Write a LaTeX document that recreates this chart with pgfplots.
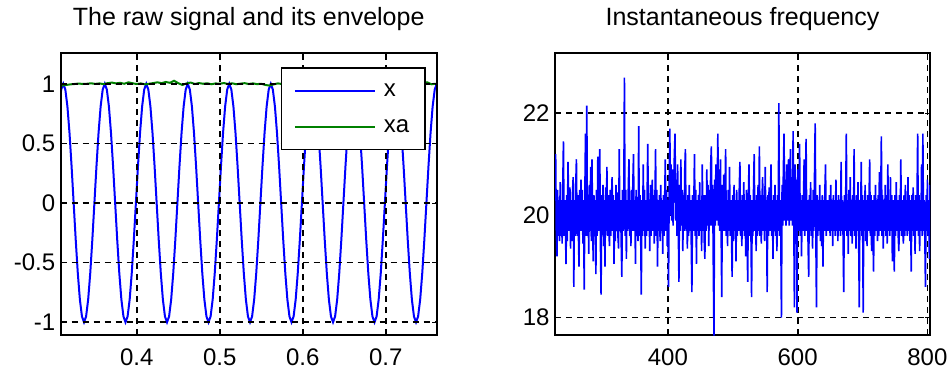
\documentclass[border=0pt]{standalone}
\usepackage{pgfplots}
\pgfplotsset{compat=1.18}
\usepackage{fontspec}
\setmainfont{Liberation Sans}
\definecolor{mblue}{RGB}{0,0,255}
\definecolor{mgreen}{RGB}{0,128,0}
\begin{document}
\begin{tikzpicture}
\useasboundingbox (0pt,0pt) rectangle (950pt,370pt);
\pgfplotsset{
  mstyle/.style={
    scale only axis,
    anchor=south west,
    axis line style={line width=1.8pt, black},
    grid=major,
    major grid style={black, line width=1.7pt, dash pattern=on 6pt off 5pt},
    major tick length=5pt,
    tick style={black, line width=1pt},
    tick align=inside,
    xtick pos=both, ytick pos=both,
    ticklabel style={font=\fontsize{24}{28}\selectfont, text=black},
    xticklabel style={anchor=base, yshift=-30pt},
    yticklabel style={anchor=east, xshift=-2pt},
    title style={font=\fontsize{25}{30}\selectfont, at={(0.5,1)}, anchor=base, yshift=21.6pt},
    clip=true,
  }
}
\begin{axis}[mstyle,
  at={(60.7pt,35pt)}, width=376pt, height=282pt,
  xmin=0.3084, xmax=0.7614, ymin=-1.107, ymax=1.258,
  xtick={0.4,0.5,0.6,0.7}, xticklabels={0.4,0.5,0.6,0.7},
  ytick={-1,-0.5,0,0.5,1}, yticklabels={-1,-0.5,0,0.5,1},
  axis on top,
  title={The raw signal and its envelope},
  legend style={at={(0.971,0.949)}, anchor=north east, draw=black, line width=1.3pt, fill=white,
    font=\fontsize{24}{28}\selectfont, inner xsep=12pt, inner ysep=12pt, row sep=14pt,
    /tikz/column sep=4pt,
    nodes={inner sep=4pt, text depth=0.2ex}},
  legend cell align=left,
  legend image code/.code={\draw[#1, line width=2pt] (0pt,0pt) -- (80pt,0pt);},
]
\addplot[mblue, line width=2pt] coordinates {
(0.3065,0.809)(0.3090,0.951)
(0.3115,1)(0.3140,0.951)(0.3165,0.809)(0.3190,0.588)(0.3215,0.309)(0.3240,0)(0.3265,-0.309)(0.3290,-0.588)(0.3315,-0.809)(0.3340,-0.951)(0.3365,-1)(0.3390,-0.951)(0.3415,-0.809)(0.3440,-0.588)(0.3465,-0.309)(0.3490,0)(0.3515,0.309)(0.3540,0.588)(0.3565,0.809)(0.3590,0.951)
(0.3615,1)(0.3640,0.951)(0.3665,0.809)(0.3690,0.588)(0.3715,0.309)(0.3740,0)(0.3765,-0.309)(0.3790,-0.588)(0.3815,-0.809)(0.3840,-0.951)(0.3865,-1)(0.3890,-0.951)(0.3915,-0.809)(0.3940,-0.588)(0.3965,-0.309)(0.3990,0)(0.4015,0.309)(0.4040,0.588)(0.4065,0.809)(0.4090,0.951)
(0.4115,1)(0.4140,0.951)(0.4165,0.809)(0.4190,0.588)(0.4215,0.309)(0.4240,0)(0.4265,-0.309)(0.4290,-0.588)(0.4315,-0.809)(0.4340,-0.951)(0.4365,-1)(0.4390,-0.951)(0.4415,-0.809)(0.4440,-0.588)(0.4465,-0.309)(0.4490,0)(0.4515,0.309)(0.4540,0.588)(0.4565,0.809)(0.4590,0.951)
(0.4615,1)(0.4640,0.951)(0.4665,0.809)(0.4690,0.588)(0.4715,0.309)(0.4740,0)(0.4765,-0.309)(0.4790,-0.588)(0.4815,-0.809)(0.4840,-0.951)(0.4865,-1)(0.4890,-0.951)(0.4915,-0.809)(0.4940,-0.588)(0.4965,-0.309)(0.4990,0)(0.5015,0.309)(0.5040,0.588)(0.5065,0.809)(0.5090,0.951)
(0.5115,1)(0.5140,0.951)(0.5165,0.809)(0.5190,0.588)(0.5215,0.309)(0.5240,0)(0.5265,-0.309)(0.5290,-0.588)(0.5315,-0.809)(0.5340,-0.951)(0.5365,-1)(0.5390,-0.951)(0.5415,-0.809)(0.5440,-0.588)(0.5465,-0.309)(0.5490,0)(0.5515,0.309)(0.5540,0.588)(0.5565,0.809)(0.5590,0.951)
(0.5615,1)(0.5640,0.951)(0.5665,0.809)(0.5690,0.588)(0.5715,0.309)(0.5740,0)(0.5765,-0.309)(0.5790,-0.588)(0.5815,-0.809)(0.5840,-0.951)(0.5865,-1)(0.5890,-0.951)(0.5915,-0.809)(0.5940,-0.588)(0.5965,-0.309)(0.5990,0)(0.6015,0.309)(0.6040,0.588)(0.6065,0.809)(0.6090,0.951)
(0.6115,1)(0.6140,0.951)(0.6165,0.809)(0.6190,0.588)(0.6215,0.309)(0.6240,0)(0.6265,-0.309)(0.6290,-0.588)(0.6315,-0.809)(0.6340,-0.951)(0.6365,-1)(0.6390,-0.951)(0.6415,-0.809)(0.6440,-0.588)(0.6465,-0.309)(0.6490,0)(0.6515,0.309)(0.6540,0.588)(0.6565,0.809)(0.6590,0.951)
(0.6615,1)(0.6640,0.951)(0.6665,0.809)(0.6690,0.588)(0.6715,0.309)(0.6740,0)(0.6765,-0.309)(0.6790,-0.588)(0.6815,-0.809)(0.6840,-0.951)(0.6865,-1)(0.6890,-0.951)(0.6915,-0.809)(0.6940,-0.588)(0.6965,-0.309)(0.6990,0)(0.7015,0.309)(0.7040,0.588)(0.7065,0.809)(0.7090,0.951)
(0.7115,1)(0.7140,0.951)(0.7165,0.809)(0.7190,0.588)(0.7215,0.309)(0.7240,0)(0.7265,-0.309)(0.7290,-0.588)(0.7315,-0.809)(0.7340,-0.951)(0.7365,-1)(0.7390,-0.951)(0.7415,-0.809)(0.7440,-0.588)(0.7465,-0.309)(0.7490,0)(0.7515,0.309)(0.7540,0.588)(0.7565,0.809)(0.7590,0.951)
(0.7615,1)(0.7640,0.951)
};
\addplot[mgreen, line width=2pt] coordinates {
(0.305,0.975)(0.310,0.985)(0.315,0.990)(0.320,0.995)(0.325,0.998)(0.330,1.002)(0.335,0.998)(0.340,1.000)(0.345,1.004)(0.350,0.999)
(0.355,1.003)(0.360,0.997)(0.365,1.005)(0.370,1.010)(0.375,1.003)(0.380,1.008)(0.385,1.000)(0.390,1.012)(0.395,1.004)(0.400,0.998)
(0.405,1.003)(0.410,0.995)(0.415,1.000)(0.420,1.006)(0.425,1.012)(0.430,1.005)(0.435,1.015)(0.440,1.008)(0.445,1.025)(0.450,1.005)
(0.455,0.990)(0.460,1.003)(0.465,1.010)(0.470,0.998)(0.475,1.006)(0.480,1.000)(0.485,1.004)(0.490,0.996)(0.495,1.003)(0.500,1.000)
(0.505,1.006)(0.510,0.998)(0.515,1.004)(0.520,0.996)(0.525,1.001)(0.530,1.005)(0.535,0.998)(0.540,1.003)(0.545,0.997)(0.550,1.000)
(0.555,0.990)(0.560,0.985)(0.565,0.995)(0.570,1.003)(0.575,0.998)(0.580,1.002)(0.585,0.997)(0.590,1.003)(0.595,0.999)(0.600,1.004)
(0.605,0.998)(0.610,1.003)(0.615,0.997)(0.620,1.002)(0.625,1.006)(0.630,0.999)(0.635,1.003)(0.640,0.996)(0.645,1.002)(0.650,1.005)
(0.655,0.998)(0.660,1.004)(0.665,0.997)(0.670,1.001)(0.675,1.006)(0.680,0.999)(0.685,1.003)(0.690,0.997)(0.695,1.002)(0.700,1.000)
(0.705,1.004)(0.710,0.998)(0.715,1.003)(0.720,0.997)(0.725,1.002)(0.730,1.005)(0.735,0.999)(0.740,1.004)(0.745,1.008)(0.750,1.012)
(0.755,0.996)(0.760,1.000)(0.765,0.995)
};
\legend{x,xa}
\end{axis}
\begin{axis}[mstyle,
  at={(555pt,35pt)}, width=375pt, height=282pt,
  xmin=226, xmax=804, ymin=17.66, ymax=23.18,
  xtick={400,600,800}, xticklabels={400,600,800},
  ytick={18,20,22}, yticklabels={18,20,22},
  title={Instantaneous frequency},
]
\addplot[mblue, line width=1.6pt] table[row sep=\\] {
x y\\
227 21.2\\ 228 19.7\\ 229 19.2\\ 230 20.5\\ 231 19.6\\ 232 20.3\\ 233 19.5\\ 234 20.65\\ 235 19.6\\ 236 20.3\\ 237 19.45\\ 238 20.6\\ 239 21.45\\ 240 19.6\\ 241 20.3\\ 242 19.8\\ 243 19.05\\ 244 20.4\\ 245 19.5\\ 246 21.05\\
247 20.3\\ 248 19.7\\ 249 20.55\\ 250 19.35\\ 251 20.3\\ 252 19.5\\ 253 20.45\\ 254 20.75\\ 255 18.6\\ 256 20.3\\ 257 19.6\\ 258 20.6\\ 259 21.1\\ 260 19.6\\ 261 20.4\\ 262 19.7\\ 263 19.0\\ 264 20.5\\ 265 19.7\\ 266 20.7\\
267 19.7\\ 268 20.5\\ 269 19.45\\ 270 20.3\\ 271 18.55\\ 272 20.4\\ 273 21.6\\ 274 19.6\\ 275 22.15\\ 276 19.6\\ 277 20.3\\ 278 19.25\\ 279 20.6\\ 280 19.7\\ 281 20.95\\ 282 19.5\\ 283 21.1\\ 284 19.7\\ 285 19.1\\ 286 20.4\\
287 19.6\\ 288 20.3\\ 289 18.85\\ 290 20.5\\ 291 19.6\\ 292 21.15\\ 293 19.7\\ 294 20.4\\ 295 21.3\\ 296 19.5\\ 297 18.45\\ 298 20.4\\ 299 19.7\\ 300 20.6\\ 301 19.4\\ 302 20.3\\ 303 19.0\\ 304 20.55\\ 305 19.7\\ 306 20.95\\
307 19.6\\ 308 20.4\\ 309 19.7\\ 310 19.4\\ 311 20.5\\ 312 19.6\\ 313 20.3\\ 314 20.75\\ 315 19.7\\ 316 20.4\\ 317 19.05\\ 318 20.3\\ 319 19.5\\ 320 20.6\\ 321 19.7\\ 322 20.45\\ 323 19.6\\ 324 19.35\\ 325 21.3\\ 326 19.7\\
327 20.3\\ 328 19.5\\ 329 18.8\\ 330 20.5\\ 331 19.7\\ 332 20.3\\ 333 22.7\\ 334 19.6\\ 335 20.5\\ 336 19.15\\ 337 20.3\\ 338 19.7\\ 339 20.55\\ 340 21.1\\ 341 19.6\\ 342 20.3\\ 343 19.4\\ 344 20.5\\ 345 19.7\\ 346 20.65\\
347 21.2\\ 348 19.7\\ 349 20.3\\ 350 19.05\\ 351 20.5\\ 352 19.6\\ 353 20.3\\ 354 19.5\\ 355 21.75\\ 356 19.6\\ 357 20.4\\ 358 19.7\\ 359 18.45\\ 360 20.3\\ 361 19.6\\ 362 21.0\\ 363 19.7\\ 364 20.5\\ 365 19.35\\ 366 20.3\\
367 19.6\\ 368 20.4\\ 369 21.4\\ 370 19.7\\ 371 20.3\\ 372 19.3\\ 373 20.6\\ 374 19.6\\ 375 20.3\\ 376 20.7\\ 377 19.7\\ 378 20.4\\ 379 19.45\\ 380 20.3\\ 381 21.3\\ 382 19.6\\ 383 20.5\\ 384 19.0\\ 385 20.3\\ 386 19.7\\
387 20.4\\ 388 19.5\\ 389 20.6\\ 390 19.7\\ 391 20.3\\ 392 19.25\\ 393 20.4\\ 394 19.6\\ 395 20.3\\ 396 21.1\\ 397 19.7\\ 398 20.5\\ 399 19.4\\ 400 20.3\\ 401 18.6\\ 402 20.6\\ 403 21.7\\ 404 20.0\\ 405 21.0\\ 406 19.9\\
407 20.9\\ 408 19.8\\ 409 20.6\\ 410 21.2\\ 411 21.6\\ 412 19.9\\ 413 20.7\\ 414 19.6\\ 415 21.0\\ 416 19.8\\ 417 18.7\\ 418 20.6\\ 419 19.7\\ 420 21.1\\ 421 19.8\\ 422 20.5\\ 423 19.3\\ 424 20.4\\ 425 19.7\\ 426 20.9\\
427 21.3\\ 428 19.7\\ 429 20.3\\ 430 19.35\\ 431 20.4\\ 432 19.6\\ 433 20.6\\ 434 19.7\\ 435 20.3\\ 436 19.5\\ 437 18.5\\ 438 20.4\\ 439 19.7\\ 440 20.3\\ 441 21.2\\ 442 19.6\\ 443 20.5\\ 444 19.05\\ 445 20.3\\ 446 19.7\\
447 20.4\\ 448 19.6\\ 449 20.65\\ 450 19.7\\ 451 20.3\\ 452 19.3\\ 453 21.0\\ 454 19.7\\ 455 20.4\\ 456 19.5\\ 457 19.15\\ 458 20.4\\ 459 19.7\\ 460 20.9\\ 461 19.8\\ 462 20.6\\ 463 19.4\\ 464 20.5\\ 465 19.8\\ 466 21.0\\
467 21.35\\ 468 19.8\\ 469 20.6\\ 470 19.0\\ 471 17.65\\ 472 20.7\\ 473 19.8\\ 474 21.0\\ 475 19.9\\ 476 20.6\\ 477 21.6\\ 478 19.8\\ 479 20.9\\ 480 19.7\\ 481 21.1\\ 482 19.8\\ 483 18.4\\ 484 20.6\\ 485 19.7\\ 486 20.8\\
487 19.7\\ 488 20.4\\ 489 21.3\\ 490 19.6\\ 491 20.3\\ 492 19.4\\ 493 20.5\\ 494 19.7\\ 495 20.95\\ 496 19.6\\ 497 20.3\\ 498 19.7\\ 499 18.8\\ 500 20.4\\ 501 19.5\\ 502 20.6\\ 503 19.7\\ 504 20.3\\ 505 19.1\\ 506 20.5\\
507 19.6\\ 508 20.3\\ 509 19.7\\ 510 20.5\\ 511 21.05\\ 512 19.6\\ 513 20.3\\ 514 19.4\\ 515 20.4\\ 516 19.7\\ 517 20.65\\ 518 19.6\\ 519 20.3\\ 520 19.2\\ 521 20.5\\ 522 19.7\\ 523 18.7\\ 524 20.3\\ 525 21.0\\ 526 19.6\\
527 20.4\\ 528 19.7\\ 529 18.4\\ 530 20.3\\ 531 19.6\\ 532 20.5\\ 533 21.2\\ 534 19.7\\ 535 20.3\\ 536 19.3\\ 537 20.4\\ 538 19.6\\ 539 20.6\\ 540 19.7\\ 541 21.35\\ 542 19.6\\ 543 20.4\\ 544 19.45\\ 545 20.3\\ 546 20.75\\
547 19.7\\ 548 20.4\\ 549 19.5\\ 550 20.95\\ 551 19.7\\ 552 20.3\\ 553 18.5\\ 554 20.4\\ 555 19.6\\ 556 20.55\\ 557 19.7\\ 558 20.4\\ 559 21.0\\ 560 19.6\\ 561 20.3\\ 562 19.15\\ 563 20.4\\ 564 19.7\\ 565 20.6\\ 566 19.6\\
567 20.3\\ 568 19.3\\ 569 20.4\\ 570 19.7\\ 571 22.2\\ 572 19.6\\ 573 20.3\\ 574 19.7\\ 575 18.0\\ 576 20.6\\ 577 19.8\\ 578 20.9\\ 579 21.6\\ 580 19.9\\ 581 20.7\\ 582 19.8\\ 583 21.0\\ 584 19.9\\ 585 20.6\\ 586 21.1\\
587 19.8\\ 588 20.8\\ 589 21.3\\ 590 19.9\\ 591 20.6\\ 592 19.8\\ 593 21.65\\ 594 20.0\\ 595 18.2\\ 596 21.0\\ 597 19.8\\ 598 20.7\\ 599 18.1\\ 600 20.9\\ 601 19.7\\ 602 20.5\\ 603 21.4\\ 604 19.6\\ 605 20.3\\ 606 19.2\\
607 20.4\\ 608 19.7\\ 609 20.3\\ 610 21.1\\ 611 19.6\\ 612 20.4\\ 613 21.5\\ 614 19.7\\ 615 20.3\\ 616 19.5\\ 617 18.8\\ 618 20.4\\ 619 19.7\\ 620 20.65\\ 621 19.6\\ 622 20.3\\ 623 19.35\\ 624 20.5\\ 625 19.7\\ 626 20.8\\
627 21.8\\ 628 19.7\\ 629 18.2\\ 630 20.4\\ 631 19.6\\ 632 20.3\\ 633 19.7\\ 634 20.6\\ 635 19.5\\ 636 20.3\\ 637 19.4\\ 638 20.4\\ 639 19.0\\ 640 20.3\\ 641 19.7\\ 642 20.5\\ 643 21.0\\ 644 19.6\\ 645 20.3\\ 646 19.7\\
647 20.3\\ 648 19.7\\ 649 20.4\\ 650 19.6\\ 651 20.6\\ 652 19.7\\ 653 20.3\\ 654 19.4\\ 655 20.4\\ 656 19.7\\ 657 20.3\\ 658 19.6\\ 659 20.7\\ 660 19.7\\ 661 20.3\\ 662 19.5\\ 663 20.4\\ 664 19.7\\ 665 20.3\\ 666 19.6\\
667 21.05\\ 668 19.7\\ 669 20.3\\ 670 19.6\\ 671 18.5\\ 672 20.4\\ 673 19.7\\ 674 20.3\\ 675 21.6\\ 676 19.6\\ 677 20.3\\ 678 19.25\\ 679 20.5\\ 680 19.7\\ 681 20.75\\ 682 19.6\\ 683 20.3\\ 684 19.45\\ 685 20.4\\ 686 19.7\\
687 21.3\\ 688 19.6\\ 689 20.3\\ 690 19.35\\ 691 20.4\\ 692 19.7\\ 693 20.65\\ 694 19.6\\ 695 18.2\\ 696 20.3\\ 697 19.7\\ 698 21.05\\ 699 19.6\\ 700 20.4\\ 701 18.1\\ 702 20.3\\ 703 19.7\\ 704 20.6\\ 705 19.5\\ 706 20.3\\
707 19.4\\ 708 20.4\\ 709 19.7\\ 710 20.3\\ 711 21.1\\ 712 19.6\\ 713 20.4\\ 714 19.3\\ 715 20.3\\ 716 19.7\\ 717 18.9\\ 718 20.4\\ 719 19.6\\ 720 20.6\\ 721 19.7\\ 722 20.3\\ 723 19.5\\ 724 20.4\\ 725 19.6\\ 726 20.85\\
727 19.7\\ 728 20.3\\ 729 21.55\\ 730 19.6\\ 731 20.4\\ 732 19.35\\ 733 20.3\\ 734 19.7\\ 735 20.6\\ 736 19.6\\ 737 20.4\\ 738 19.45\\ 739 21.0\\ 740 19.7\\ 741 20.3\\ 742 19.6\\ 743 20.75\\ 744 19.7\\ 745 20.4\\ 746 19.1\\
747 20.3\\ 748 19.7\\ 749 18.9\\ 750 20.4\\ 751 19.6\\ 752 20.65\\ 753 19.7\\ 754 20.3\\ 755 19.6\\ 756 19.3\\ 757 20.4\\ 758 19.7\\ 759 21.1\\ 760 19.6\\ 761 20.3\\ 762 19.7\\ 763 19.45\\ 764 20.4\\ 765 19.6\\ 766 20.6\\
767 19.7\\ 768 20.3\\ 769 19.6\\ 770 20.75\\ 771 19.7\\ 772 20.4\\ 773 19.5\\ 774 20.3\\ 775 18.9\\ 776 20.4\\ 777 19.7\\ 778 20.55\\ 779 19.6\\ 780 20.3\\ 781 19.25\\ 782 20.4\\ 783 19.7\\ 784 20.3\\ 785 21.6\\ 786 19.6\\
787 20.4\\ 788 19.3\\ 789 20.3\\ 790 19.7\\ 791 21.0\\ 792 19.6\\ 793 21.6\\ 794 19.7\\ 795 20.3\\ 796 19.6\\ 797 18.6\\ 798 20.4\\ 799 19.7\\ 800 20.7\\ 801 19.6\\ 802 20.3\\ 803 19.15\\ 804 20.6\\ 805 19.2\\
};
\end{axis}
\end{tikzpicture}
\end{document}
